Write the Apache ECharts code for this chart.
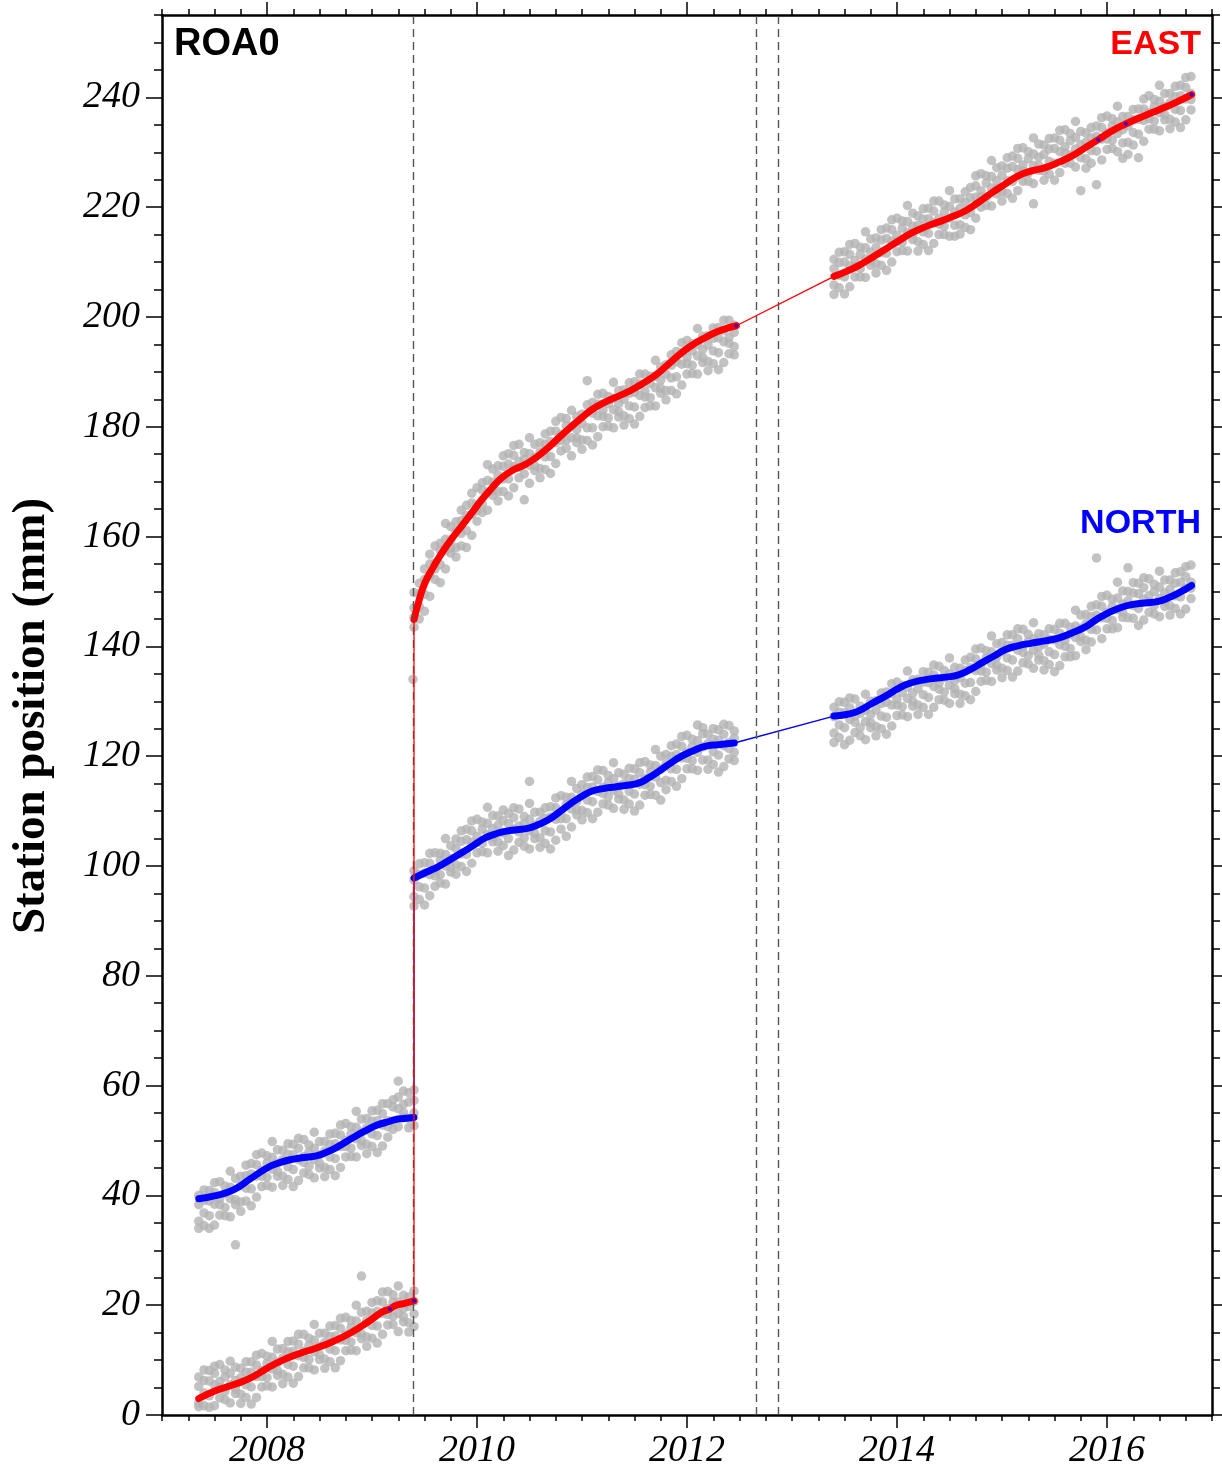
<!DOCTYPE html>
<html>
<head>
<meta charset="utf-8">
<title>ROA0</title>
<script src="https://cdn.jsdelivr.net/npm/echarts@6/dist/echarts.min.js"></script>
<style>
  html, body { margin: 0; padding: 0; background: #fff; }
  #chart { width: 1222px; height: 1470px; }
</style>
</head>
<body>
<div id="chart"></div>
<script>
// station + axis labels
const stationName = 'ROA0'
const yTitle = 'Station position (mm)'
const xLabelYears = [2008, 2010, 2012, 2014, 2016]
const yMajorTicks = [0, 20, 40, 60, 80, 100, 120, 140, 160, 180, 200, 220, 240]
// equipment changes / offsets (dashed lines)
const eventYears = [2009.39, 2012.657, 2012.867]

// fitted model, [year, mm]
const eastFit1 = [[2007.35,3.0],[2007.52,4.5],[2007.68,5.5],[2007.84,6.7],[2008.0,8.5],[2008.15,10.0],[2008.31,11.2],[2008.47,12.2],[2008.63,13.4],[2008.79,14.9],[2008.95,16.8],[2009.10,18.8],[2009.17,19.3],[2009.22,19.9],[2009.30,20.3],[2009.40,20.8]]
const eastFit2 = [[2009.40,144.9],[2009.45,148.5],[2009.505,151.6],[2009.58,154.3],[2009.664,157.0],[2009.76,159.6],[2009.854,161.9],[2009.95,164.3],[2010.045,166.7],[2010.14,168.8],[2010.235,170.7],[2010.35,172.2],[2010.457,173.1],[2010.57,174.5],[2010.679,176.2],[2010.79,178.2],[2010.902,180.1],[2011.0,181.7],[2011.092,183.1],[2011.2,184.3],[2011.314,185.3],[2011.43,186.3],[2011.537,187.4],[2011.63,188.5],[2011.727,189.8],[2011.84,191.7],[2011.949,193.5],[2012.06,195.0],[2012.171,196.2],[2012.31,197.5],[2012.47,198.4]]
const eastFit3 = [[2013.40,207.4],[2013.52,208.3],[2013.63,209.3],[2013.76,210.8],[2013.886,212.3],[2014.01,213.8],[2014.14,215.3],[2014.28,216.5],[2014.426,217.5],[2014.54,218.4],[2014.648,219.3],[2014.77,220.8],[2014.902,222.6],[2015.03,224.2],[2015.155,225.7],[2015.28,226.6],[2015.41,227.2],[2015.54,228.2],[2015.664,229.3],[2015.79,230.8],[2015.917,232.3],[2016.04,233.8],[2016.171,235.1],[2016.30,236.2],[2016.426,237.2],[2016.54,238.1],[2016.648,239.0],[2016.806,240.5]]
const northFit1 = [[2007.35,39.4],[2007.5,39.9],[2007.68,41.0],[2007.84,43.0],[2008.0,45.0],[2008.11,45.9],[2008.22,46.5],[2008.35,46.9],[2008.47,47.2],[2008.56,47.8],[2008.66,48.7],[2008.8,50.3],[2008.92,51.6],[2009.05,52.8],[2009.17,53.5],[2009.22,53.8],[2009.30,54.0],[2009.40,54.2]]
const northFit2 = [[2009.40,97.8],[2009.52,98.9],[2009.632,99.9],[2009.74,101.1],[2009.854,102.4],[2009.97,103.8],[2010.076,105.1],[2010.17,105.8],[2010.267,106.3],[2010.38,106.6],[2010.489,106.9],[2010.58,107.5],[2010.679,108.4],[2010.79,109.9],[2010.902,111.5],[2011.0,112.7],[2011.092,113.6],[2011.2,114.1],[2011.314,114.4],[2011.43,114.7],[2011.537,115.1],[2011.63,116.0],[2011.727,117.2],[2011.84,118.7],[2011.949,120.0],[2012.06,121.0],[2012.171,121.8],[2012.30,122.1],[2012.45,122.4]]
const northFit3 = [[2013.40,127.3],[2013.52,127.6],[2013.63,128.2],[2013.76,129.6],[2013.886,130.9],[2014.0,132.2],[2014.108,133.2],[2014.23,133.8],[2014.362,134.2],[2014.47,134.4],[2014.584,134.8],[2014.70,135.8],[2014.806,137.0],[2014.92,138.2],[2015.029,139.4],[2015.15,140.1],[2015.283,140.6],[2015.41,141.0],[2015.536,141.5],[2015.66,142.4],[2015.79,143.5],[2015.90,144.9],[2016.012,146.1],[2016.12,147.0],[2016.235,147.6],[2016.36,147.9],[2016.489,148.2],[2016.58,148.8],[2016.679,149.7],[2016.806,151.1]]
// small blue marks on the east fit
const eastBreaks = [[2009.17,19.3],[2009.40,20.8],[2012.47,198.4],[2015.917,232.3],[2016.18,235.2],[2016.806,240.5]]

// observations: [year, mm, mm, ...]
const obsEast1 = [[2007.35,6.9,2.2,5.2,1.5],[2007.40,4.0,8.2,1.7,6.3],[2007.45,6.2,3.5,8.1,1.4],[2007.50,5.5,7.6,1.7,8.9],[2007.55,9.2,5.0,3.1,6.1],[2007.60,4.3,6.9,8.2,2.8],[2007.65,7.6,2.2,5.5,9.8],[2007.70,3.9,8.7,6.3,4.8],[2007.75,8.5,3.8,6.8,2.1],[2007.80,5.5,9.7,3.2,7.8],[2007.85,7.8,5.1,9.7,2.0],[2007.90,7.0,9.1,3.2,10.9],[2007.95,11.2,7.0,5.1,8.1],[2008.00,6.8,9.4,10.7,5.3],[2008.05,10.5,5.1,8.4,13.4],[2008.10,7.2,12.0,9.6,8.1],[2008.15,12.1,7.4,10.4,5.7],[2008.20,9.2,13.4,6.9,11.5],[2008.25,11.6,8.9,13.5,5.8],[2008.30,10.8,12.9,7.0,14.7],[2008.35,14.7,10.5,8.6,11.6],[2008.40,10.1,12.7,14.0,8.6],[2008.45,13.6,8.2,11.5,16.5],[2008.50,10.1,14.9,12.5,11.0],[2008.55,14.9,10.2,13.2,8.5],[2008.60,12.0,16.2,9.7,14.3],[2008.65,14.4,11.7,16.3,8.6],[2008.70,13.7,15.8,9.9,17.6],[2008.75,17.8,13.6,11.7,14.7],[2008.80,13.3,15.9,17.2,11.8],[2008.85,17.1,11.7,15.0,20.0],[2008.90,13.9,18.7,25.3,14.8],[2008.95,18.9,14.2,17.2,12.5],[2009.00,16.3,20.5,14.0,18.6],[2009.05,18.9,16.2,20.8,13.1],[2009.10,18.5,20.6,14.7,22.4],[2009.15,22.5,18.3,16.4,19.4],[2009.20,18.0,20.6,21.9,16.5],[2009.25,20.6,15.2,18.5,23.5],[2009.30,17.0,21.8,19.4,17.9],[2009.35,21.5,16.8,19.8,15.1],[2009.40,18.4,22.6,16.1,20.7]]
const obsNorth1 = [[2007.35,40.0,35.3,38.3,34.0],[2007.40,36.8,41.0,34.5,39.1],[2007.45,39.0,36.3,40.9,34.0],[2007.50,38.4,40.5,34.6,42.3],[2007.55,42.5,38.3,36.4,39.4],[2007.60,37.8,40.4,41.7,36.3],[2007.65,41.5,36.1,39.4,44.4],[2007.70,38.3,43.1,31.0,39.2],[2007.75,43.5,38.8,41.8,37.1],[2007.80,41.3,45.5,39.0,43.6],[2007.85,43.9,41.2,45.8,38.1],[2007.90,43.5,45.6,39.7,47.4],[2007.95,47.7,43.5,41.6,44.6],[2008.00,43.3,45.9,47.2,41.8],[2008.05,46.9,41.5,44.8,49.8],[2008.10,43.5,48.3,45.9,44.4],[2008.15,48.2,43.5,46.5,41.8],[2008.20,45.2,49.4,42.9,47.5],[2008.25,47.4,44.7,49.3,41.6],[2008.30,46.5,48.6,42.7,50.4],[2008.35,50.2,46.0,44.1,47.1],[2008.40,45.3,47.9,49.2,43.8],[2008.45,48.6,43.2,46.5,51.5],[2008.50,45.0,49.8,47.4,45.9],[2008.55,49.8,45.1,48.1,43.4],[2008.60,47.0,51.2,44.7,49.3],[2008.65,49.4,46.7,51.3,43.6],[2008.70,48.9,51.0,45.1,52.8],[2008.75,53.1,48.9,47.0,50.0],[2008.80,48.6,51.2,52.5,47.1],[2008.85,52.4,47.0,50.3,55.3],[2008.90,49.1,53.9,51.5,50.0],[2008.95,54.0,49.3,52.3,47.6],[2009.00,51.2,55.4,48.9,53.5],[2009.05,53.6,50.9,55.5,47.8],[2009.10,52.8,54.9,49.0,56.7],[2009.15,56.7,52.5,50.6,53.6],[2009.20,53.5,56.1,57.4,52.0],[2009.25,57.9,52.5,55.8,60.8],[2009.30,54.2,59.0,56.6,55.1],[2009.35,58.7,54.0,57.0,52.3],[2009.40,55.0,59.2,52.7,57.3]]
const obsEast2 = [[2009.39,134.0],[2009.40,147.0,143.5,145.3,149.8],[2009.45,147.3,151.5,145.0,149.6],[2009.50,152.2,149.5,154.1,146.4],[2009.55,152.9,155.0,149.1,156.8],[2009.60,158.3,154.1,152.2,155.2],[2009.65,154.9,157.5,158.8,151.6],[2009.70,159.5,154.1,157.4,162.4],[2009.75,157.0,161.8,159.4,157.9],[2009.80,162.7,158.0,161.0,156.3],[2009.85,160.6,164.8,158.3,162.9],[2009.90,163.8,161.1,165.7,158.0],[2009.95,164.0,166.1,160.2,167.9],[2010.00,168.9,164.7,162.8,165.8],[2010.05,165.9,168.5,169.8,164.4],[2010.10,170.2,164.8,168.1,173.1],[2010.15,167.5,172.3,169.9,168.4],[2010.20,172.9,168.2,171.2,166.5],[2010.25,170.5,174.7,168.2,172.8],[2010.30,173.2,170.5,175.1,167.4],[2010.35,172.7,174.8,168.9,176.6],[2010.40,176.8,172.6,170.7,173.7],[2010.45,171.4,174.0,175.3,166.7],[2010.50,175.1,169.7,173.0,178.0],[2010.55,172.0,176.8,174.4,172.9],[2010.60,177.1,172.4,175.4,170.7],[2010.65,174.5,178.7,172.2,176.8],[2010.70,177.3,174.6,179.2,171.5],[2010.75,177.1,179.2,173.3,181.0],[2010.80,181.7,177.5,175.6,178.6],[2010.85,177.6,180.2,181.5,176.1],[2010.90,180.1,174.7,178.0,183.0],[2010.95,177.1,181.9,179.5,178.0],[2011.00,182.3,177.6,180.6,175.9],[2011.05,179.8,184.0,177.5,188.4],[2011.10,182.5,179.8,184.4,176.7],[2011.15,182.0,184.1,178.2,185.9],[2011.20,186.1,181.9,180.0,183.0],[2011.25,181.6,184.2,185.5,180.1],[2011.30,185.2,179.8,183.1,188.1],[2011.35,181.8,186.6,184.2,182.7],[2011.40,186.7,182.0,185.0,180.3],[2011.45,183.8,188.0,181.5,186.1],[2011.50,186.3,183.6,188.2,180.5],[2011.55,185.7,187.8,181.9,189.6],[2011.60,189.6,185.4,183.5,186.5],[2011.65,185.3,187.9,189.2,183.8],[2011.70,189.2,183.8,187.1,192.1],[2011.75,186.1,190.9,188.5,187.0],[2011.80,191.3,186.6,189.6,184.9],[2011.85,188.9,193.1,186.6,191.2],[2011.90,191.8,189.1,193.7,186.0],[2011.95,191.4,193.5,187.6,195.3],[2012.00,195.7,191.5,189.6,192.6],[2012.05,191.2,193.8,195.1,189.7],[2012.10,195.0,189.6,192.9,197.9],[2012.15,191.7,196.5,194.1,192.6],[2012.20,196.6,191.9,194.9,190.2],[2012.25,193.8,198.0,191.5,196.1],[2012.30,196.2,193.5,198.1,190.4],[2012.35,195.5,197.6,191.7,199.4],[2012.40,199.4,195.2,193.3,196.3],[2012.45,194.6,197.2,198.5,193.1]]
const obsNorth2 = [[2009.40,99.1,94.4,97.4,92.7],[2009.45,96.2,100.4,93.9,98.5],[2009.50,98.7,96.0,100.6,92.9],[2009.55,98.4,100.5,94.6,102.3],[2009.60,102.4,98.2,96.3,99.3],[2009.65,98.4,101.0,102.3,96.9],[2009.70,102.1,96.7,100.0,105.0],[2009.75,98.9,103.7,101.3,99.8],[2009.80,104.9,100.2,103.2,98.5],[2009.85,102.2,106.4,99.9,104.5],[2009.90,104.8,102.1,106.7,99.0],[2009.95,104.3,106.4,100.5,108.2],[2010.00,108.5,104.3,102.4,105.4],[2010.05,104.1,106.7,108.0,102.6],[2010.10,107.8,102.4,105.7,110.7],[2010.15,104.4,109.2,106.8,105.3],[2010.20,109.1,104.4,107.4,102.7],[2010.25,106.0,110.2,103.7,108.3],[2010.30,107.7,105.0,109.6,101.9],[2010.35,106.7,108.8,102.9,110.6],[2010.40,110.4,106.2,104.3,107.3],[2010.45,105.1,107.7,109.0,103.6],[2010.50,108.5,103.1,106.4,111.4,115.4],[2010.55,105.0,109.8,107.4,105.9],[2010.60,109.8,105.1,108.1,103.4],[2010.65,106.4,110.6,104.1,108.7],[2010.70,108.9,106.2,110.8,103.1],[2010.75,108.5,110.6,104.7,112.4],[2010.80,112.8,108.6,106.7,109.7],[2010.85,108.6,111.2,112.5,105.4],[2010.90,112.5,107.1,110.4,115.4],[2010.95,109.3,114.1,111.7,110.2],[2011.00,114.8,110.1,113.1,108.4],[2011.05,112.0,116.2,109.7,114.3],[2011.10,114.4,111.7,116.3,108.6],[2011.15,113.6,115.7,109.8,117.5],[2011.20,117.4,113.2,111.3,114.3],[2011.25,112.6,115.2,116.5,111.1],[2011.30,115.9,110.5,113.8,118.8],[2011.35,112.2,117.0,114.6,113.1],[2011.40,116.7,112.0,115.0,110.3],[2011.45,113.6,117.8,111.3,115.9],[2011.50,115.8,113.1,117.7,110.0],[2011.55,114.9,117.0,111.1,118.8],[2011.60,119.0,114.8,112.9,115.9],[2011.65,114.5,117.1,118.4,113.0],[2011.70,118.3,112.9,116.2,121.2],[2011.75,115.2,120.0,117.6,112.0],[2011.80,120.3,115.6,118.6,113.9],[2011.85,117.7,121.9,115.4,120.0],[2011.90,120.3,117.6,122.2,114.5],[2011.95,119.7,121.8,115.9,123.6],[2012.00,123.8,119.6,117.7,120.7],[2012.05,119.2,121.8,123.1,117.7],[2012.10,122.8,117.4,120.7,125.7],[2012.15,119.3,124.1,121.7,125.2],[2012.20,124.0,119.3,122.3,117.6],[2012.25,120.8,125.0,118.5,123.1],[2012.30,122.9,120.2,124.8,117.1],[2012.35,121.9,124.0,118.1,125.8],[2012.40,125.6,121.4,119.5,122.5],[2012.45,120.7,123.3,124.6,119.2]]
const obsEast3 = [[2013.40,210.5,205.8,208.8,204.1],[2013.45,207.6,211.8,205.3,209.9],[2013.50,210.0,207.3,211.9,204.2],[2013.55,209.3,211.4,205.5,213.2],[2013.60,213.4,209.2,207.3,210.3],[2013.65,208.8,211.4,212.7,207.3],[2013.70,212.6,207.2,210.5,215.5],[2013.75,209.4,214.2,211.8,210.3],[2013.80,214.4,209.7,212.7,208.0],[2013.85,211.7,215.9,209.4,214.0],[2013.90,214.3,211.6,216.2,208.5],[2013.95,213.8,215.9,210.0,217.7],[2014.00,218.0,213.8,211.9,214.9],[2014.05,213.6,216.2,217.5,212.1],[2014.10,217.4,212.0,215.3,220.3],[2014.15,214.1,218.9,216.5,215.0],[2014.20,218.4,213.7,216.7,212.0],[2014.25,215.5,219.7,213.2,217.8],[2014.30,217.9,215.2,219.8,212.1],[2014.35,217.2,219.3,213.4,221.1],[2014.40,221.1,216.9,215.0,218.0],[2014.45,216.5,219.1,220.4,215.0],[2014.50,220.1,214.7,218.0,223.0],[2014.55,216.7,221.5,219.1,214.7],[2014.60,221.5,216.8,219.8,215.1],[2014.65,218.6,222.8,216.3,220.9],[2014.70,221.7,219.0,223.6,215.9],[2014.75,221.8,223.9,218.0,225.7],[2014.80,226.1,221.9,220.0,223.0],[2014.85,221.8,224.4,225.7,220.3],[2014.90,225.6,220.2,223.5,228.5],[2014.95,222.4,227.2,224.8,223.3],[2015.00,227.5,222.8,225.8,221.1],[2015.05,224.8,229.0,222.5,227.1],[2015.10,227.4,224.7,229.3,221.6],[2015.15,226.8,228.9,223.0,230.7],[2015.20,230.8,226.6,224.7,227.7],[2015.25,226.2,228.8,230.1,224.7],[2015.30,229.7,224.3,227.6,232.6,220.6],[2015.35,226.7,231.5,229.1,227.6],[2015.40,231.3,226.6,229.6,224.9],[2015.45,228.3,232.5,226.0,230.6],[2015.50,230.7,228.0,232.6,224.9],[2015.55,230.1,232.2,226.3,234.0],[2015.60,234.1,229.9,228.0,231.0],[2015.65,229.5,232.1,233.4,228.0],[2015.70,232.7,227.3,230.6,235.6],[2015.75,229.0,233.8,231.4,223.0],[2015.80,233.5,228.8,231.8,227.1],[2015.85,230.3,234.5,228.0,232.6],[2015.90,232.9,230.2,234.8,224.1],[2015.95,232.4,234.5,228.6,236.3],[2016.00,236.6,232.4,230.5,233.5],[2016.05,232.2,234.8,236.1,230.7],[2016.10,235.5,230.1,233.4,238.4],[2016.15,231.7,236.5,234.1,228.9],[2016.20,236.5,231.8,234.8,229.6],[2016.25,233.6,237.8,231.3,235.9],[2016.30,236.0,233.3,237.9,229.0],[2016.35,235.8,237.9,232.0,239.7],[2016.40,240.3,236.1,234.2,237.2],[2016.45,235.7,238.3,239.6,234.2],[2016.50,239.3,233.9,237.2,242.2],[2016.55,235.9,240.7,238.3,236.8],[2016.60,240.7,236.0,239.0,234.3],[2016.65,237.8,242.0,235.5,240.1],[2016.70,240.3,237.6,242.2,234.5],[2016.75,239.7,241.8,235.9,243.6],[2016.80,243.8,239.6,237.7,240.7]]
const obsNorth3 = [[2013.40,128.9,124.2,127.2,122.5],[2013.45,125.7,129.9,123.4,128.0],[2013.50,127.9,125.2,129.8,122.1],[2013.55,126.7,128.8,122.9,130.6],[2013.60,130.4,126.2,124.3,127.3],[2013.65,125.2,127.8,129.1,123.7],[2013.70,128.4,123.0,126.3,131.3],[2013.75,125.2,130.0,127.6,126.1],[2013.80,130.1,125.4,128.4,123.7],[2013.85,127.3,131.5,125.0,129.6],[2013.90,129.8,127.1,131.7,124.0],[2013.95,129.3,131.4,125.5,133.2],[2014.00,133.5,129.3,127.4,130.4],[2014.05,129.0,131.6,132.9,127.5],[2014.10,132.6,127.2,130.5,135.5],[2014.15,129.1,133.9,131.5,130.0],[2014.20,134.0,129.3,132.3,127.6],[2014.25,131.2,135.4,128.9,133.5],[2014.30,133.4,130.7,135.3,127.6],[2014.35,132.7,134.8,128.9,136.6],[2014.40,136.4,132.2,130.3,133.3],[2014.45,131.7,134.3,135.6,130.2],[2014.50,135.0,129.6,132.9,137.9],[2014.55,131.4,136.2,133.8,132.3],[2014.60,136.0,131.3,134.3,129.6],[2014.65,133.3,137.5,131.0,135.6],[2014.70,136.1,133.4,138.0,130.3],[2014.75,135.6,137.7,131.8,139.5],[2014.80,139.7,135.5,133.6,136.6],[2014.85,135.3,137.9,139.2,133.8],[2014.90,139.0,133.6,136.9,141.9],[2014.95,135.7,140.5,138.1,136.6],[2015.00,140.7,136.0,139.0,134.3],[2015.05,137.9,142.1,135.6,140.2],[2015.10,140.2,137.5,142.1,134.4],[2015.15,139.3,141.4,135.5,143.2],[2015.20,143.1,138.9,137.0,140.0],[2015.25,138.3,140.9,142.2,136.8],[2015.30,141.4,136.0,139.3,144.3],[2015.35,137.5,142.3,139.9,138.4],[2015.40,142.1,137.4,140.4,135.7],[2015.45,139.0,143.2,136.7,141.3],[2015.50,141.2,138.5,143.1,135.4],[2015.55,140.3,142.4,136.5,144.2],[2015.60,144.2,140.0,138.1,141.1],[2015.65,139.6,142.2,143.5,138.1],[2015.70,143.7,138.3,141.6,146.6],[2015.75,140.9,145.7,143.3,141.8],[2015.80,145.8,141.1,144.1,139.4],[2015.85,143.1,147.3,140.8,145.4],[2015.90,145.7,143.0,147.6,156.1],[2015.95,145.2,147.3,141.4,149.1],[2016.00,149.3,145.1,143.2,146.2],[2016.05,144.7,147.3,148.6,143.2],[2016.10,148.8,143.4,146.7,151.7],[2016.15,145.3,150.1,147.7,146.2],[2016.20,150.0,145.2,148.3,154.3],[2016.25,147.4,151.6,145.1,149.7],[2016.30,149.6,146.9,151.5,143.8],[2016.35,148.6,150.7,144.8,152.5],[2016.40,152.3,148.1,146.2,149.2],[2016.45,147.4,150.0,151.3,145.9],[2016.50,150.8,145.4,148.7,153.7],[2016.55,147.3,152.1,149.7,148.2],[2016.60,152.1,147.4,150.4,145.7],[2016.65,149.2,153.4,146.9,151.5],[2016.70,151.7,149.0,153.6,145.9],[2016.75,150.6,152.7,146.8,154.5],[2016.80,154.8,150.6,148.7,151.7]]

function toPoints (rows) {
  let pts = []
  rows.forEach(r => {
    for (let i = 1; i < r.length; i++) pts.push([r[0], r[i]])
  })
  return pts
}

function link (a, b) {
  return [a[a.length - 1], b[0]]
}

const black = '#000'
const tickFont = { fontFamily: 'Liberation Serif', fontStyle: 'italic', fontSize: 38, color: black }

function xAxisCfg (pos, major) {
  let cfg = {
    type: 'value', position: pos, min: 2007, max: 2017,
    splitLine: { show: false },
    axisLine: { show: !major, onZero: false, lineStyle: { color: black, width: 2.5 } },
    axisTick: { show: true, inside: false, length: major ? 13 : 6, lineStyle: { color: black, width: 1.5 } },
    axisLabel: { show: false }
  }
  if (major) {
    cfg.axisTick.customValues = xLabelYears
    if (pos === 'bottom') {
      cfg.axisLabel = Object.assign({ show: true, margin: 17, customValues: xLabelYears, formatter: v => String(v) }, tickFont)
    }
  } else {
    cfg.interval = 0.25
  }
  return cfg
}

function yAxisCfg (pos, major) {
  let cfg = {
    type: 'value', position: pos, min: 0, max: 255,
    splitLine: { show: false },
    axisLine: { show: !major, onZero: false, lineStyle: { color: black, width: 2.5 } },
    axisTick: { show: true, inside: false, length: major ? 16 : 8, lineStyle: { color: black, width: 1.5 } },
    axisLabel: { show: false }
  }
  if (major) {
    cfg.axisTick.customValues = yMajorTicks
    if (pos === 'left') {
      cfg.axisLabel = Object.assign({ show: true, margin: 22, customValues: yMajorTicks, formatter: v => String(v) }, tickFont)
    }
  } else {
    cfg.interval = 5
  }
  return cfg
}

function fitSeries (data, color) {
  return {
    type: 'line', data: data, smooth: 0.5, showSymbol: false, z: 4,
    lineStyle: { color: color, width: 7, cap: 'round', join: 'round' }
  }
}

function linkSeries (data, color, z) {
  return {
    type: 'line', data: data, showSymbol: false, z: z,
    lineStyle: { color: color, width: 1.3 }
  }
}

const obsAll = [].concat(
  toPoints(obsEast1), toPoints(obsEast2), toPoints(obsEast3),
  toPoints(obsNorth1), toPoints(obsNorth2), toPoints(obsNorth3)
)

let myChart = echarts.init(document.getElementById('chart'))
myChart.setOption({
  animation: false,
  backgroundColor: '#fff',
  grid: { left: 162, right: 10, top: 15, bottom: 55, containLabel: false, outerBoundsMode: 'none' },
  xAxis: [xAxisCfg('bottom', false), xAxisCfg('bottom', true), xAxisCfg('top', false), xAxisCfg('top', true)],
  yAxis: [yAxisCfg('left', false), yAxisCfg('left', true), yAxisCfg('right', false), yAxisCfg('right', true)],
  series: [
    {
      type: 'scatter', data: obsAll, symbolSize: 9.5, z: 2,
      itemStyle: { color: '#b3b3b3' },
      markLine: {
        silent: true, symbol: 'none', label: { show: false },
        lineStyle: { color: '#555', width: 1.4, type: [8, 5] },
        data: eventYears.map(v => ({ xAxis: v }))
      }
    },
    linkSeries(link(northFit1, northFit2), '#0000ff', 3),
    linkSeries(link(northFit2, northFit3), '#0000ff', 3),
    fitSeries(northFit1, '#0000ff'),
    fitSeries(northFit2, '#0000ff'),
    fitSeries(northFit3, '#0000ff'),
    linkSeries(link(eastFit1, eastFit2), '#ff0000', 5),
    linkSeries(link(eastFit2, eastFit3), '#ff0000', 5),
    fitSeries(eastFit1, '#ff0000'),
    fitSeries(eastFit2, '#ff0000'),
    fitSeries(eastFit3, '#ff0000'),
    {
      type: 'scatter', data: eastBreaks, symbolSize: 4, z: 6,
      itemStyle: { color: '#0000ff' }
    }
  ],
  graphic: [
    {
      type: 'text', x: 174, y: 45,
      style: { text: stationName, fontFamily: 'Liberation Sans', fontWeight: 'bold', fontSize: 38, fill: black, align: 'left', verticalAlign: 'middle' }
    },
    {
      type: 'text', x: 1201, y: 45,
      style: { text: 'EAST', fontFamily: 'Liberation Sans', fontWeight: 'bold', fontSize: 34, fill: '#ff0000', align: 'right', verticalAlign: 'middle' }
    },
    {
      type: 'text', x: 1201, y: 524,
      style: { text: 'NORTH', fontFamily: 'Liberation Sans', fontWeight: 'bold', fontSize: 34, fill: '#0000ff', align: 'right', verticalAlign: 'middle' }
    },
    {
      type: 'text', x: 32, y: 716, rotation: Math.PI / 2,
      style: { text: yTitle, fontFamily: 'Liberation Serif', fontWeight: 'bold', fontSize: 47, fill: black, align: 'center', verticalAlign: 'middle' }
    }
  ]
})
</script>
</body>
</html>
